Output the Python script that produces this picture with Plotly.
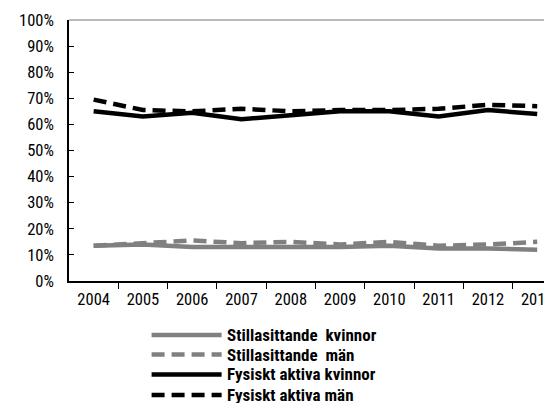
import plotly.graph_objects as go

# data (percent)
years = ["2004", "2005", "2006", "2007", "2008", "2009", "2010", "2011", "2012", "2013"]
still_kvinnor = [13.5, 14, 13, 13, 13, 13, 13.5, 12.5, 12.5, 12]
still_man = [13.5, 14.5, 15.5, 14.5, 15, 14, 15, 13.5, 14, 15]
aktiva_kvinnor = [65, 63, 64.5, 62, 63.5, 65, 65, 63, 65.5, 64]
aktiva_man = [69.5, 65.5, 65, 66, 65, 65.5, 65.5, 66, 67.5, 67]

names = ["Stillasittande  kvinnor", "Stillasittande  män",
         "Fysiskt aktiva kvinnor", "Fysiskt aktiva män"]
series = [still_kvinnor, still_man, aktiva_kvinnor, aktiva_man]
colors = ["#808080", "#808080", "#000000", "#000000"]
dashes = ["solid", "13px,7px", "solid", "13px,7px"]

FONT = "Liberation Sans Narrow, Arial Narrow, Roboto Condensed, DejaVu Sans Condensed, sans-serif"
LW = 4.5

x = list(range(len(years)))

fig = go.Figure()
for name, vals, col, dash in zip(names, series, colors, dashes):
    fig.add_trace(go.Scatter(x=x, y=vals, mode="lines", name=name,
                             line=dict(color=col, width=LW, dash=dash),
                             showlegend=False))

# hand made legend below the plot, long line samples like the original
row_y = [-0.207, -0.282, -0.358, -0.437]
for name, col, dash, yy in zip(names, colors, dashes, row_y):
    fig.add_shape(type="line", xref="paper", yref="paper",
                  x0=0.171, x1=0.316, y0=yy, y1=yy,
                  line=dict(color=col, width=LW, dash=dash))
    fig.add_annotation(xref="paper", yref="paper", x=0.323, y=yy,
                       text="<b>" + name + "</b>", showarrow=False,
                       xanchor="left", yanchor="middle",
                       font=dict(family=FONT, size=17, color="black"))

# top border
fig.add_shape(type="line", xref="paper", yref="paper", x0=0, x1=1, y0=1, y1=1,
              line=dict(color="#777777", width=1))

boundaries = [i + 0.5 for i in range(len(years) - 1)]

# page body adds 8px offset, margins compensate for it
fig.update_layout(
    width=552, height=403,
    margin=dict(l=61, r=8, t=12, b=130),
    paper_bgcolor="white", plot_bgcolor="white",
    font=dict(family=FONT, size=16.5, color="black"),
    xaxis=dict(range=[-0.5, 9.3], tickvals=x, ticktext=years,
               ticks="", showgrid=False, zeroline=False, automargin=False,
               showline=True, linecolor="black", linewidth=1.5,
               ticklabelstandoff=2, ticklabeloverflow="allow",
               minor=dict(tickvals=boundaries, ticks="outside", ticklen=6,
                          tickcolor="black", tickwidth=1.2)),
    xaxis2=dict(overlaying="x", anchor="y", side="bottom", automargin=False,
                range=[-0.5, 9.3], tickvals=boundaries, showticklabels=False,
                ticks="inside", ticklen=6, tickcolor="black", tickwidth=1.2,
                showgrid=False, zeroline=False, showline=False),
    yaxis=dict(range=[0, 100], dtick=10, ticksuffix="%", automargin=False,
               ticks="inside", ticklen=5, tickcolor="black", tickwidth=1.2,
               showgrid=False, zeroline=False,
               showline=True, linecolor="black", linewidth=1.5,
               ticklabelstandoff=10),
)

fig.write_html("out.html")
